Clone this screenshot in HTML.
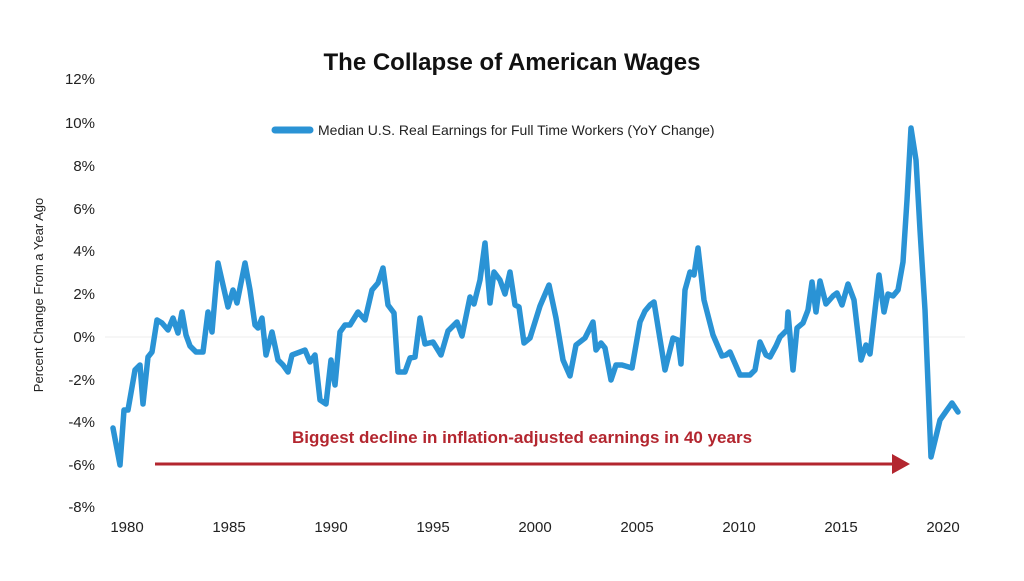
<!DOCTYPE html>
<html><head><style>
body{margin:0;background:#fff;}
svg text{font-family:"Liberation Sans",sans-serif;}
</style></head><body>
<svg width="1024" height="576" xmlns="http://www.w3.org/2000/svg">
<rect width="1024" height="576" fill="#fff"/>
<text x="512" y="70" text-anchor="middle" font-size="24" font-weight="bold" fill="#111">The Collapse of American Wages</text>
<g font-size="15" fill="#222" text-anchor="end">
<text x="95" y="84">12%</text><text x="95" y="128">10%</text><text x="95" y="171">8%</text>
<text x="95" y="214">6%</text><text x="95" y="256">4%</text><text x="95" y="299">2%</text>
<text x="95" y="342">0%</text><text x="95" y="385">-2%</text><text x="95" y="427">-4%</text>
<text x="95" y="470">-6%</text><text x="95" y="512">-8%</text>
</g>
<g font-size="15" fill="#222" text-anchor="middle">
<text x="127" y="532">1980</text><text x="229" y="532">1985</text><text x="331" y="532">1990</text>
<text x="433" y="532">1995</text><text x="535" y="532">2000</text><text x="637" y="532">2005</text>
<text x="739" y="532">2010</text><text x="841" y="532">2015</text><text x="943" y="532">2020</text>
</g>
<text transform="translate(43,295) rotate(-90)" text-anchor="middle" font-size="13" fill="#222">Percent Change From a Year Ago</text>
<line x1="105" y1="337" x2="965" y2="337" stroke="#eee" stroke-width="1"/>
<line x1="275" y1="130" x2="310" y2="130" stroke="#2a93d5" stroke-width="7" stroke-linecap="round"/>
<text x="318" y="135" font-size="14" fill="#222">Median U.S. Real Earnings for Full Time Workers (YoY Change)</text>
<polyline fill="none" stroke="#2a93d5" stroke-width="5.5" stroke-linejoin="round" stroke-linecap="round" points="113,428 120,465 124,410 128,410 135,370 140,365 143,404 148,357 152,352 157,320 162,323 168,330 173,318 178,333 182,312 186,335 190,346 196,352 203,352 208,312 212,332 218,263 228,307 233,290 237,303 245,263 250,290 255,325 258,328 262,318 266,355 272,332 278,360 283,365 288,372 292,355 300,352 305,350 310,362 315,355 320,400 326,404 331,360 335,385 340,332 345,325 350,325 358,312 365,320 372,290 378,283 383,268 388,305 394,313 398,372 405,372 410,358 415,357 420,318 425,344 433,342 441,355 448,331 457,322 462,336 470,297 474,304 480,280 485,243 490,303 494,272 500,280 505,294 510,272 515,305 519,307 524,343 530,338 535,322 540,306 549,285 556,318 563,360 570,376 576,345 585,338 593,322 596,350 601,343 605,348 611,380 616,365 622,365 632,368 640,322 645,311 650,305 654,302 665,370 673,338 678,340 681,364 685,290 690,272 694,275 698,248 704,300 713,335 722,356 726,355 730,352 740,375 750,375 755,370 760,342 766,355 770,357 776,346 780,337 787,330 788,312 793,370 797,328 803,323 808,310 812,282 816,312 820,281 826,304 833,296 837,293 842,305 848,284 854,300 861,360 866,345 870,354 879,275 884,312 888,294 893,296 898,290 903,262 907,200 911,128 916,160 920,230 925,310 931,457 940,420 947,410 952,403 958,412"/>
<text x="522" y="443" text-anchor="middle" font-size="17" font-weight="bold" fill="#b3262f">Biggest decline in inflation-adjusted earnings in 40 years</text>
<line x1="155" y1="464" x2="895" y2="464" stroke="#b3262f" stroke-width="3"/>
<polygon points="892,454 910,464 892,474" fill="#b3262f"/>
</svg>
</body></html>
